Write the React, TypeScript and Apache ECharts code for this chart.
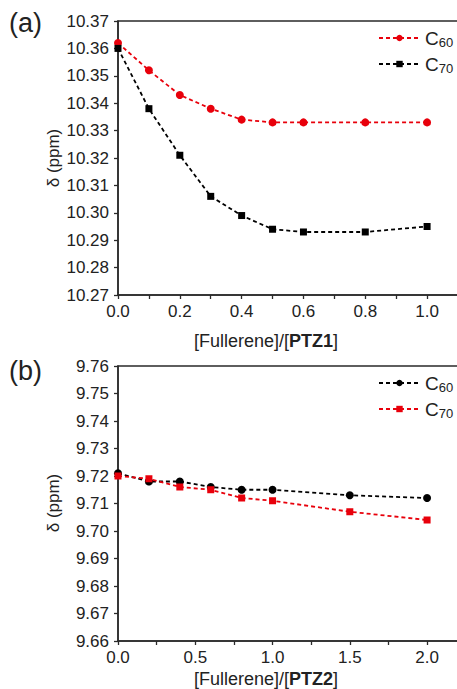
import React, { useEffect, useRef } from 'react';
import * as echarts from 'echarts';

// Panel (a): [Fullerene]/[PTZ1]
const xA = [0, 0.1, 0.2, 0.3, 0.4, 0.5, 0.6, 0.8, 1.0];
const aC60 = [10.362, 10.352, 10.343, 10.338, 10.334, 10.333, 10.333, 10.333, 10.333];
const aC70 = [10.36, 10.338, 10.321, 10.306, 10.299, 10.294, 10.293, 10.293, 10.295];
const yRangeA = [10.27, 10.37];
const xRangeA = [0, 1.1];

// Panel (b): [Fullerene]/[PTZ2]
const xB = [0, 0.2, 0.4, 0.6, 0.8, 1.0, 1.5, 2.0];
const bC60 = [9.721, 9.718, 9.718, 9.716, 9.715, 9.715, 9.713, 9.712];
const bC70 = [9.72, 9.719, 9.716, 9.715, 9.712, 9.711, 9.707, 9.704];
const yRangeB = [9.66, 9.76];
const xRangeB = [0, 2.2];

const legendNames: Record<string, string> = {
  a60: 'C{s|60}',
  a70: 'C{s|70}',
  b60: 'C{s|60}',
  b70: 'C{s|70}',
};

const RED = '#e8000b';
const BLACK = '#000000';
const AXIS = '#2a2a2a';
const FONT = '"Liberation Sans", Arial, sans-serif';

function pairs(xs: number[], ys: number[]) {
  return xs.map((x, i) => [x, ys[i]]);
}

function lineSeries(name: string, xs: number[], ys: number[], color: string, symbol: string, size: number, idx: number) {
  return {
    type: 'line',
    name,
    xAxisIndex: idx,
    yAxisIndex: idx,
    data: pairs(xs, ys),
    symbol,
    symbolSize: size,
    showAllSymbol: true,
    itemStyle: { color },
    lineStyle: { color, width: 1.8, type: [4, 3] },
    z: 3,
  };
}

function xAxisCfg(idx: number, range: number[], step: number, labelStep: number) {
  return {
    type: 'value',
    gridIndex: idx,
    min: range[0],
    max: range[1],
    interval: step,
    axisLine: { show: true, lineStyle: { color: AXIS, width: 1.5 } },
    axisTick: { show: true, inside: false, length: 4, lineStyle: { color: AXIS, width: 1.3 } },
    splitLine: { show: false },
    axisLabel: {
      show: true,
      margin: 8,
      fontSize: 17,
      color: '#222',
      fontFamily: FONT,
      showMaxLabel: false,
      formatter: (v: number) => {
        const r = v / labelStep;
        if (Math.abs(r - Math.round(r)) > 1e-6) return '';
        if (v > range[1] - step / 2) return '';
        return v.toFixed(1);
      },
    },
  };
}

function yAxisCfg(idx: number, range: number[]) {
  return {
    type: 'value',
    gridIndex: idx,
    min: range[0],
    max: range[1],
    interval: 0.01,
    axisLine: { show: true, lineStyle: { color: AXIS, width: 1.5 } },
    axisTick: { show: true, inside: false, length: 4, lineStyle: { color: AXIS, width: 1.3 } },
    splitLine: { show: false },
    axisLabel: {
      margin: 9,
      fontSize: 17,
      color: '#222',
      fontFamily: FONT,
      formatter: (v: number) => v.toFixed(2),
    },
  };
}

function legendCfg(names: string[], top: number) {
  return {
    data: names,
    orient: 'vertical',
    left: 378,
    top,
    itemWidth: 41,
    itemHeight: 8,
    itemGap: 4,
    padding: 0,
    formatter: (n: string) => legendNames[n],
    textStyle: {
      fontSize: 19,
      color: '#222',
      fontFamily: FONT,
      lineHeight: 22,
      rich: {
        s: { fontSize: 13, fontFamily: FONT, color: '#222', verticalAlign: 'bottom', lineHeight: 22, padding: [7, 0, 0, 0] },
      },
    },
  };
}

export default function App() {
  const ref = useRef<HTMLDivElement>(null);

  useEffect(() => {
    if (!ref.current) return;
    const chart = echarts.init(ref.current, undefined, { renderer: 'svg' });
    const option: any = {
      animation: false,
      backgroundColor: '#ffffff',
      textStyle: { fontFamily: FONT },
      grid: [
        { left: 118, top: 21, width: 340, height: 274, show: true, borderColor: AXIS, borderWidth: 1.5, backgroundColor: 'transparent' },
        { left: 118, top: 366, width: 340, height: 275, show: true, borderColor: AXIS, borderWidth: 1.5, backgroundColor: 'transparent' },
      ],
      xAxis: [xAxisCfg(0, xRangeA, 0.1, 0.2), xAxisCfg(1, xRangeB, 0.25, 0.5)],
      yAxis: [yAxisCfg(0, yRangeA), yAxisCfg(1, yRangeB)],
      legend: [legendCfg(['a60', 'a70'], 27), legendCfg(['b60', 'b70'], 372)],
      series: [
        lineSeries('a60', xA, aC60, RED, 'circle', 8, 0),
        lineSeries('a70', xA, aC70, BLACK, 'rect', 7, 0),
        lineSeries('b60', xB, bC60, BLACK, 'circle', 8, 1),
        lineSeries('b70', xB, bC70, RED, 'rect', 7, 1),
      ],
      graphic: [
        { type: 'text', left: 9, top: 9, style: { text: '(a)', fontSize: 27, fill: '#222', fontFamily: FONT } },
        { type: 'text', left: 9, top: 357, style: { text: '(b)', fontSize: 27, fill: '#222', fontFamily: FONT } },
        {
          type: 'text', x: 53, y: 158, rotation: Math.PI / 2,
          style: { text: 'δ (ppm)', fontSize: 17, fill: '#222', fontFamily: FONT, align: 'center', verticalAlign: 'middle' },
        },
        {
          type: 'text', x: 53, y: 503, rotation: Math.PI / 2,
          style: { text: 'δ (ppm)', fontSize: 17, fill: '#222', fontFamily: FONT, align: 'center', verticalAlign: 'middle' },
        },
        {
          type: 'text', x: 266, y: 341,
          style: {
            text: '[Fullerene]/[{b|PTZ1}]', fontSize: 18, fill: '#222', fontFamily: FONT, align: 'center', verticalAlign: 'middle',
            rich: { b: { fontSize: 18, fontWeight: 'bold', fill: '#222', fontFamily: FONT } },
          },
        },
        {
          type: 'text', x: 266, y: 679,
          style: {
            text: '[Fullerene]/[{b|PTZ2}]', fontSize: 18, fill: '#222', fontFamily: FONT, align: 'center', verticalAlign: 'middle',
            rich: { b: { fontSize: 18, fontWeight: 'bold', fill: '#222', fontFamily: FONT } },
          },
        },
      ],
    };
    chart.setOption(option);
    return () => chart.dispose();
  }, []);

  return (
    <div style={{ position: 'fixed', left: 0, top: 0, width: 457, height: 689, overflow: 'hidden', background: '#fff' }}>
      <div ref={ref} style={{ width: 480, height: 689 }} />
    </div>
  );
}
